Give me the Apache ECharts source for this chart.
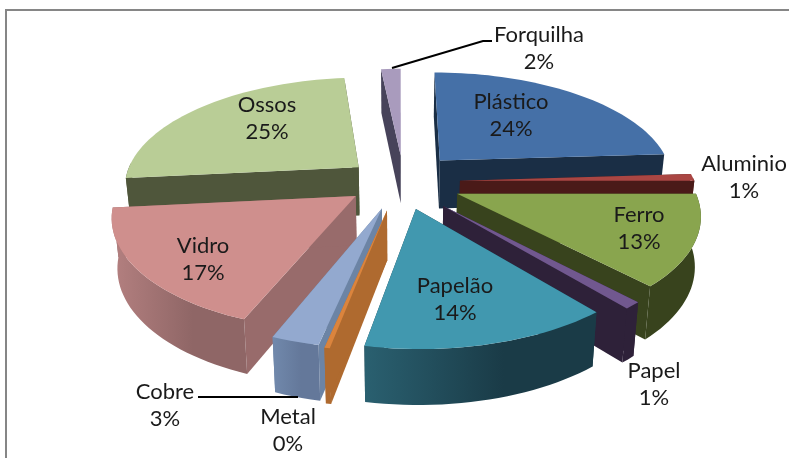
<!DOCTYPE html>
<html>
<head>
<meta charset="utf-8">
<script src="https://cdn.jsdelivr.net/npm/echarts@6/dist/echarts.min.js"></script>
<style>
html,body{margin:0;padding:0;background:#fff;}
#main{width:789px;height:458px;}
</style>
</head>
<body>
<div id="main"></div>
<script>
var categories = ['Plástico','Aluminio','Ferro','Papel','Papelão','Metal','Cobre','Vidro','Ossos','Forquilha'];
var values = [24, 1, 13, 1, 14, 0.3, 2.7, 17.4, 25, 1.6];

var topColors = ['#4570A7','#AA4643','#89A54E','#71588F','#4198AF','#DB843D','#93A9CF','#CF8F8D','#B9CD96','#A99BBD'];
var wallColors = ['#1A2E45','#4A1A18','#38431D','#2E2139','#1A3B47','#AF6A2F','#6C84A5','#986B6B','#4F563B','#47435A'];
var outerLeft = ['#1A2E45','#4A1A18','#38431D','#2E2139','#2A6070','#AF6A2F','#7189AC','#B48080','#4F563B','#47435A'];
var outerRight = ['#1A2E45','#4A1A18','#38431D','#2E2139','#1A3B47','#AF6A2F','#64789A','#8F6666','#4F563B','#47435A'];
// quanto cada fatia sai do centro
var explode = [0.276,0.27,0.276,0.29,0.25,0.26,0.25,0.214,0.214,0.25];
// ajuste lateral de algumas fatias
var nudge = [0,0,0,0,0.017,0.012,0.012,0,0,0.03];
// ordem de pintura, do fundo para a frente
var drawOrder = [9,0,8,1,2,7,3,6,5,4];
var labelPos = [[511,115],[744,177],[639,228],[654,384],[455,299],[288,430],[165,405],[203,259],[267,118],[539,48]];

var vx = 400, horizon = -500, radius = 241, persp = 0.163;
var cx0 = -0.014, cy0 = 0.165;

var total = values.reduce(function(a,b){return a+b;},0);

// plano do chão -> tela
var project = function(gx,gy,low){
	var w = 1 + persp*gy;
	var k = 1/w;
	var x = vx + radius*gx*k;
	var y = horizon + 700*k;
	if(low){
		y += 48 + 30*(k-0.95);
		x = vx + (x-vx)*0.98;
	}
	return [x,y];
};

var renderSlice = function(params,api){
	var i = params.dataIndex;
	var before = 0;
	for(var n=0;n<i;n++){before += values[n];}
	var a0 = before/total*Math.PI*2;
	var a1 = a0 + api.value(0)/total*Math.PI*2;
	var mid = (a0+a1)/2;
	var ax = cx0 + explode[i]*Math.sin(mid) + nudge[i];
	var ay = cy0 + explode[i]*Math.cos(mid);
	var z = (drawOrder.indexOf(i)+1)*10;
	var steps = Math.max(2,Math.ceil((a1-a0)/(Math.PI/90)));
	var rim = [], children = [];
	for(var s=0;s<=steps;s++){
		var a = a0+(a1-a0)*s/steps;
		rim.push([ax+Math.sin(a),ay+Math.cos(a),a]);
	}
	var apexTop = project(ax,ay,false), apexLow = project(ax,ay,true);
	var radial = function(p){
		children.push({type:'polygon',z2:z,silent:true,
			shape:{points:[apexTop,project(p[0],p[1],false),project(p[0],p[1],true),apexLow]},
			style:{fill:wallColors[i]}});
	};
	radial(rim[0]);
	radial(rim[steps]);
	// parede externa: só a parte virada para quem olha
	var upper = [], lower = [];
	for(s=0;s<=steps;s++){
		if(Math.cos(rim[s][2])>0.05){continue;}
		upper.push(project(rim[s][0],rim[s][1],false));
		lower.unshift(project(rim[s][0],rim[s][1],true));
	}
	if(upper.length>1){
		children.push({type:'polygon',z2:z+1,silent:true,
			shape:{points:upper.concat(lower)},
			style:{fill:new echarts.graphic.LinearGradient(0,0,1,0,[
				{offset:0,color:outerLeft[i]},{offset:0.6,color:outerRight[i]},{offset:1,color:outerRight[i]}])}});
	}
	var face = [apexTop];
	for(s=0;s<=steps;s++){face.push(project(rim[s][0],rim[s][1],false));}
	children.push({type:'polygon',z2:z+2,silent:true,shape:{points:face},style:{fill:topColors[i]}});
	children.push({type:'text',z2:200,silent:true,x:labelPos[i][0],y:labelPos[i][1],
		style:{text:categories[i]+'\n'+Math.round(api.value(0))+'%',
			font:'22px Lato',fill:'#1a1a1a',align:'center',verticalAlign:'middle',lineHeight:27}});
	return {type:'group',children:children};
};

var chart = echarts.init(document.getElementById('main'));
chart.setOption({
	animation:false,
	backgroundColor:'#ffffff',
	graphic:[
		{type:'rect',silent:true,shape:{x:6,y:10,width:820,height:480},style:{fill:'none',stroke:'#868686',lineWidth:2}},
		{type:'polyline',silent:true,z:10,shape:{points:[[392,68],[483,41],[492,41]]},style:{fill:'none',stroke:'#000',lineWidth:2}},
		{type:'polyline',silent:true,z:10,shape:{points:[[198,397],[298,397]]},style:{fill:'none',stroke:'#000',lineWidth:2}}
	],
	series:[{
		type:'custom',
		coordinateSystem:'none',
		renderItem:renderSlice,
		data:values.map(function(v){return [v];})
	}]
});
</script>
</body>
</html>
